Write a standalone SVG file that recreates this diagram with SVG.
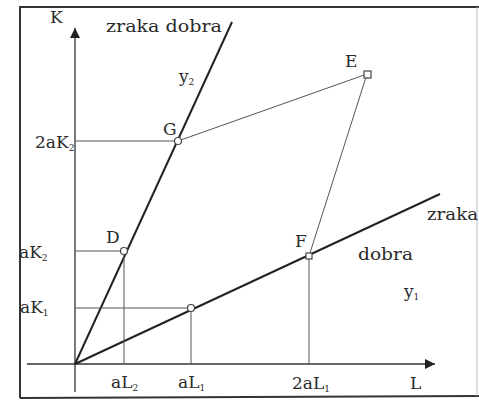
<svg xmlns="http://www.w3.org/2000/svg" width="479" height="401" viewBox="0 0 479 401">
<style>
.t{font-family:"DejaVu Serif","Liberation Serif",serif;font-size:17px;fill:#2a2a2a}
.s{font-size:9px}
.ray{stroke:#222;stroke-width:2;fill:none}
.g{stroke:#555;stroke-width:1;fill:none}
.ax{stroke:#333;stroke-width:1.3;fill:none}
.pt{fill:#fff;stroke:#444;stroke-width:1.2}
</style>
<defs>
<marker id="ah" viewBox="0 0 10 10" refX="10" refY="5" markerWidth="14" markerHeight="10" markerUnits="userSpaceOnUse" orient="auto">
<path d="M0,0 L10,5 L0,10 Z" fill="#222"/>
</marker>
</defs>
<rect width="479" height="401" fill="#fff"/>
<g id="frame">
<path d="M20,398 L20,7 L479,7" stroke="#333" stroke-width="2" fill="none"/>
<path d="M20,398 L479,396" stroke="#333" stroke-width="2" fill="none"/>
<path d="M477,7 L477,396" stroke="#bbb" stroke-width="1" fill="none"/>
</g>
<g id="connectors">
<path class="ax" d="M75,392 L75,28" marker-end="url(#ah)"/>
<path class="ax" d="M27,364 L435,364" marker-end="url(#ah)"/>
<path class="ray" d="M75,364 L232,22"/>
<path class="ray" d="M75,364 L440,194"/>
<path class="g" d="M178,141 L367,74 L309,256"/>
<path class="g" d="M75,141 L178,141"/>
<path class="g" d="M75,251 L124,251 L124,364"/>
<path class="g" d="M75,308 L191,308 L191,364"/>
<path class="g" d="M309,256 L309,364"/>
</g>
<g id="point-G"><circle class="pt" cx="178" cy="141" r="3.5"/><text class="t" x="163" y="135">G</text></g>
<g id="point-D"><circle class="pt" cx="124" cy="251" r="3.5"/><text class="t" x="106" y="243">D</text></g>
<g id="point-E"><rect class="pt" x="364" y="71" width="7" height="7"/><text class="t" x="345" y="67">E</text></g>
<g id="point-F"><rect class="pt" x="306" y="253" width="6" height="6"/><text class="t" x="295" y="247">F</text></g>
<g id="point-H"><circle class="pt" cx="191" cy="308" r="3.5"/></g>
<g id="labels">
<text class="t" x="50" y="23">K</text>
<text class="t" x="106" y="32" textLength="116" lengthAdjust="spacingAndGlyphs">zraka dobra</text>
<text class="t" x="179" y="82">y<tspan class="s" dy="3">2</tspan></text>
<text class="t" x="35" y="148">2aK<tspan class="s" dy="3">2</tspan></text>
<text class="t" x="19" y="258">aK<tspan class="s" dy="3">2</tspan></text>
<text class="t" x="20" y="313">aK<tspan class="s" dy="3">1</tspan></text>
<text class="t" x="111" y="388">aL<tspan class="s" dy="3">2</tspan></text>
<text class="t" x="178" y="388">aL<tspan class="s" dy="3">1</tspan></text>
<text class="t" x="292" y="389">2aL<tspan class="s" dy="3">1</tspan></text>
<text class="t" x="410" y="389">L</text>
<text class="t" x="427" y="220" textLength="51" lengthAdjust="spacingAndGlyphs">zraka</text>
<text class="t" x="358" y="260" textLength="55" lengthAdjust="spacingAndGlyphs">dobra</text>
<text class="t" x="404" y="297">y<tspan class="s" dy="3">1</tspan></text>
</g>
</svg>
